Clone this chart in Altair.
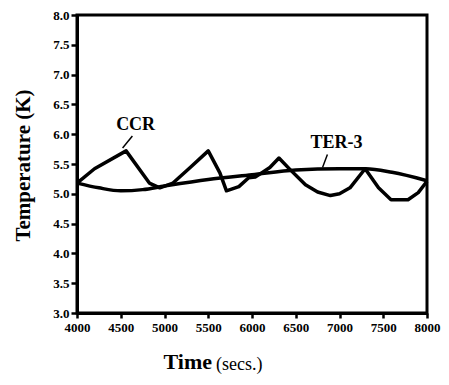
import altair as alt
import pandas as pd

# CCR curve
ccr_time = [4000, 4200, 4561, 4827, 4946, 5097, 5300, 5500, 5633, 5708, 5850, 5962, 6037, 6204, 6308, 6433, 6611, 6750, 6896, 7000, 7120, 7293, 7446, 7589, 7783, 7900, 8000]
ccr_temp = [5.18, 5.42, 5.72, 5.18, 5.10, 5.18, 5.45, 5.72, 5.35, 5.05, 5.12, 5.27, 5.28, 5.44, 5.60, 5.41, 5.15, 5.03, 4.97, 5.00, 5.10, 5.42, 5.10, 4.90, 4.90, 5.02, 5.21]

# TER-3 curve
ter_time = [4000, 4250, 4500, 4750, 5000, 5500, 6000, 6500, 7000, 7300, 7600, 8000]
ter_temp = [5.18, 5.10, 5.05, 5.07, 5.13, 5.24, 5.32, 5.40, 5.42, 5.42, 5.36, 5.22]

# labels and leader lines
label_text = ["CCR", "TER-3"]
label_time = [4670, 6966]
label_temp = [6.15, 5.85]
lead_t1 = [4521, 6806]
lead_y1 = [5.77, 5.44]
lead_t2 = [4633, 6862]
lead_y2 = [5.97, 5.66]

x_ticks = [4000, 4500, 5000, 5500, 6000, 6500, 7000, 7500, 8000]
y_ticks = [3.0, 3.5, 4.0, 4.5, 5.0, 5.5, 6.0, 6.5, 7.0, 7.5, 8.0]

FONT = "Liberation Serif"

ccr = pd.DataFrame({"t": ccr_time, "T": ccr_temp})
ter = pd.DataFrame({"t": ter_time, "T": ter_temp})
labels = pd.DataFrame({"label": label_text, "t": label_time, "T": label_temp})
leads = pd.DataFrame({"t": lead_t1, "T": lead_y1, "t2": lead_t2, "T2": lead_y2})

xs = alt.Scale(domain=[4000, 8000], nice=False, zero=False)
ys = alt.Scale(domain=[3.0, 8.0], nice=False, zero=False)

xax = alt.Axis(values=x_ticks, format="d", title=None, labelFont=FONT, labelFontWeight="bold",
               labelFontSize=13, labelColor="black", domainColor="black", domainWidth=3,
               tickColor="black", tickWidth=2.5, tickSize=5, grid=False, labelPadding=3,
               labelFlush=False, labelOverlap=False)
yax = alt.Axis(values=y_ticks, format=".1f", title="Temperature (K)", titleFont=FONT,
               titleFontWeight="bold", titleFontSize=21, titleColor="black",
               titleX=-54, titleY=150, titleAlign="center", titleBaseline="middle", titleAngle=270,
               labelFont=FONT, labelFontWeight="bold", labelFontSize=13, labelColor="black",
               domainColor="black", domainWidth=3, tickColor="black", tickWidth=2.5,
               tickSize=6, grid=False, labelPadding=2, labelOverlap=False)


def X(field="t:Q"):
    return alt.X(field, scale=xs, axis=xax)


def Y(field="T:Q"):
    return alt.Y(field, scale=ys, axis=yax)


ccr_line = alt.Chart(ccr).mark_line(color="black", strokeWidth=3.5, interpolate="linear",
                                     strokeJoin="round").encode(x=X(), y=Y())
ter_line = alt.Chart(ter).mark_line(color="black", strokeWidth=3.5, interpolate="monotone").encode(
    x=X(), y=Y())
lead_rules = alt.Chart(leads).mark_rule(color="black", strokeWidth=1.5).encode(
    x=X(), y=Y(), x2="t2:Q", y2="T2:Q")
label_marks = alt.Chart(labels).mark_text(font=FONT, fontWeight="bold", fontSize=18,
                                          color="black", baseline="middle").encode(
    x=X(), y=Y(), text="label:N")

title_df = pd.DataFrame({"a": [1]})
time_title = alt.Chart(title_df).mark_text(text="Time", font=FONT, fontWeight="bold", fontSize=22,
                                           color="black", align="right", baseline="alphabetic").encode(
    x=alt.value(135), y=alt.value(354))
secs_title = alt.Chart(title_df).mark_text(text="(secs.)", font=FONT, fontSize=18,
                                           color="black", align="left", baseline="alphabetic").encode(
    x=alt.value(139), y=alt.value(355))

chart = alt.layer(ccr_line, ter_line, lead_rules, label_marks, time_title, secs_title).properties(
    width=350, height=298,
    autosize=alt.AutoSizeParams(type="none"),
    padding={"left": 69, "top": 7, "right": 14, "bottom": 64},
).configure_view(stroke="black", strokeWidth=3)

chart.save("out.html", embed_options={"renderer": "svg", "actions": False})
